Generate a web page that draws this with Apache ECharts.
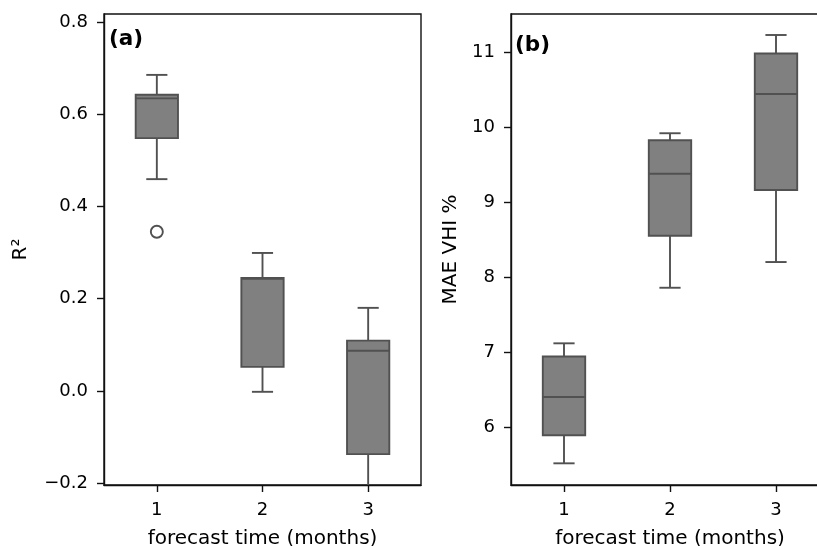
<!DOCTYPE html>
<html>
<head>
<meta charset="utf-8">
<script src="https://cdn.jsdelivr.net/npm/echarts@6/dist/echarts.min.js"></script>
<style>
  html, body { margin: 0; padding: 0; background: #fff; }
  #chart { width: 817px; height: 546px; }
</style>
</head>
<body>
<div id="chart"></div>
<script>
// forecast lead times
const months = ['1', '2', '3'];

// panel (a): R2, [min, q1, median, q3, max]
const r2Box = [
  [0.459, 0.548, 0.634, 0.642, 0.685],
  [-0.002, 0.052, 0.243, 0.245, 0.299],
  [-0.26, -0.137, 0.087, 0.109, 0.18]
];
// outliers: [category index, value]
const r2Outliers = [[0, 0.345]];

// panel (b): MAE VHI %
const maeBox = [
  [5.516, 5.89, 6.40, 6.94, 7.116],
  [7.857, 8.55, 9.378, 9.823, 9.917],
  [8.20, 9.16, 10.44, 10.98, 11.227]
];

const lineCol = '#515151';
const fillCol = '#808080';
const font = 'DejaVu Sans';

function boxItem(params, api) {
  const x = api.value(0);
  const half = api.size([1, 0])[0] * 0.2;
  const capHalf = half / 2;
  const p = k => api.coord([x, api.value(k)]);
  const lo = p(1), q1 = p(2), med = p(3), q3 = p(4), hi = p(5);
  const cx = lo[0];
  const st = { stroke: lineCol, lineWidth: 1.9, fill: null };
  return {
    type: 'group',
    children: [
      { type: 'line', shape: { x1: cx, y1: q1[1], x2: cx, y2: lo[1] }, style: st },
      { type: 'line', shape: { x1: cx, y1: q3[1], x2: cx, y2: hi[1] }, style: st },
      { type: 'line', shape: { x1: cx - capHalf, y1: lo[1], x2: cx + capHalf, y2: lo[1] }, style: st },
      { type: 'line', shape: { x1: cx - capHalf, y1: hi[1], x2: cx + capHalf, y2: hi[1] }, style: st },
      { type: 'rect', shape: { x: cx - half, y: q3[1], width: half * 2, height: q1[1] - q3[1] },
        style: { fill: fillCol, stroke: lineCol, lineWidth: 1.9 } },
      { type: 'line', shape: { x1: cx - half, y1: med[1], x2: cx + half, y2: med[1] }, style: st }
    ]
  };
}

function flierItem(params, api) {
  const c = api.coord([api.value(0), api.value(1)]);
  return { type: 'circle', shape: { cx: c[0], cy: c[1], r: 6 },
    style: { fill: '#fff', stroke: lineCol, lineWidth: 1.9 } };
}

const toData = arr => arr.map((b, i) => [i].concat(b));

const minus = v => String(v).replace('-', '\u2212');

const spine = { show: true, onZero: false, lineStyle: { color: '#111', width: 1.4 } };

function xAxisOf(idx) {
  return {
    type: 'category', gridIndex: idx, data: months, boundaryGap: true,
    name: 'forecast time (months)', nameLocation: 'middle', nameGap: 44,
    nameTextStyle: { fontFamily: font, fontSize: 20, color: '#000' },
    axisLine: spine,
    axisTick: { show: true, alignWithLabel: true, length: 7, lineStyle: { color: '#111', width: 1.4 } },
    axisLabel: { fontFamily: font, fontSize: 18, color: '#000', margin: 16 },
    splitLine: { show: false }
  };
}

function yAxisOf(idx, min, max, name, gap, fmt) {
  return {
    type: 'value', gridIndex: idx, min: min, max: max, splitNumber: 5,
    name: name, nameLocation: 'middle', nameGap: gap,
    nameTextStyle: { fontFamily: font, fontSize: 20, color: '#000' },
    axisLine: spine,
    axisTick: { show: true, length: 7, lineStyle: { color: '#111', width: 1.4 } },
    axisLabel: { fontFamily: font, fontSize: 18, color: '#000', margin: 16,
      showMinLabel: false, showMaxLabel: false, formatter: fmt },
    splitLine: { show: false }
  };
}

const chart = echarts.init(document.getElementById('chart'));
chart.setOption({
  animation: false,
  backgroundColor: '#fff',
  grid: [
    { left: 104, top: 14, width: 317, bottom: 61, outerBoundsMode: 'none', show: true,
      borderColor: '#111', borderWidth: 1.4, backgroundColor: 'transparent' },
    { left: 511, top: 14, width: 318, bottom: 61, outerBoundsMode: 'none', show: true,
      borderColor: '#111', borderWidth: 1.4, backgroundColor: 'transparent' }
  ],
  xAxis: [xAxisOf(0), xAxisOf(1)],
  yAxis: [
    yAxisOf(0, -0.204, 0.817, 'R\u00b2', 73, v => minus(v.toFixed(1))),
    yAxisOf(1, 5.227, 11.507, 'MAE VHI %', 50, v => String(Math.round(v)))
  ],
  graphic: [
    { type: 'text', left: 109, top: 28, style: { text: '(a)', font: 'bold 21.5px "DejaVu Sans"', fill: '#000' } },
    { type: 'text', left: 515, top: 34, style: { text: '(b)', font: 'bold 21.5px "DejaVu Sans"', fill: '#000' } }
  ],
  series: [
    { type: 'custom', xAxisIndex: 0, yAxisIndex: 0, clip: true, renderItem: boxItem, data: toData(r2Box) },
    { type: 'custom', xAxisIndex: 0, yAxisIndex: 0, clip: true, renderItem: flierItem, data: r2Outliers },
    { type: 'custom', xAxisIndex: 1, yAxisIndex: 1, clip: true, renderItem: boxItem, data: toData(maeBox) }
  ]
});
</script>
</body>
</html>
